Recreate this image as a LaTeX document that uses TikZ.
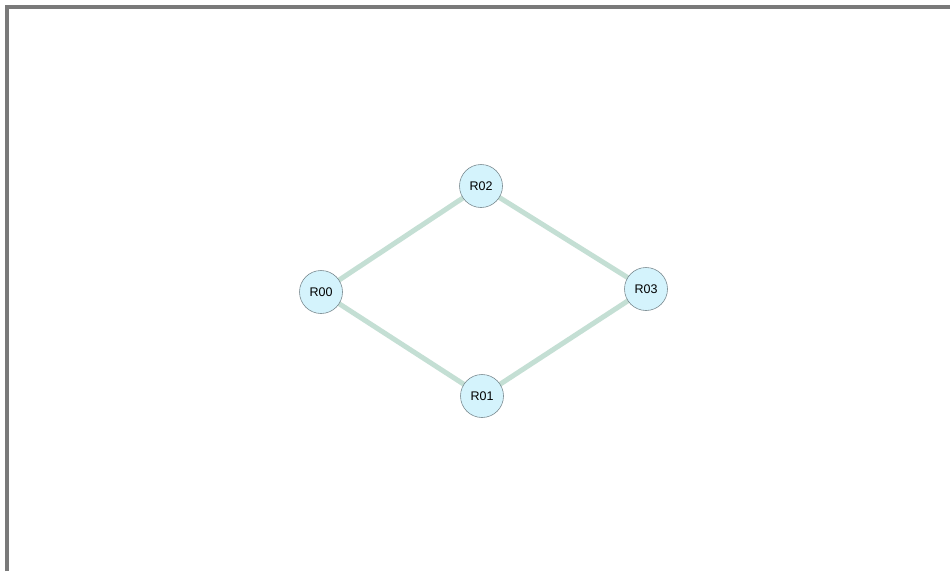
\documentclass[tikz,border=0pt]{standalone}
\usepackage{fontspec}
\setmainfont{Liberation Sans}
\usetikzlibrary{backgrounds}
\definecolor{nodefill}{HTML}{D4F3FC}
\definecolor{nodeedge}{HTML}{7A8A90}
\definecolor{edgecol}{HTML}{C4DFD4}
\definecolor{framecol}{HTML}{7A7A7A}
\begin{document}
\begin{tikzpicture}[x=1pt,y=-1pt,
  router/.style={circle,draw=nodeedge,fill=nodefill,line width=0.6pt,minimum size=43pt,inner sep=0pt,font=\fontsize{12.5}{14}\selectfont},
  link/.style={draw=edgecol,line width=5pt}]
\useasboundingbox (0,0) rectangle (950,571);
\draw[framecol,line width=4pt] (6.5,571) -- (6.5,6.5) -- (950,6.5);
\node[router] (R00) at (321,292) {R00};
\node[router] (R01) at (482,396) {R01};
\node[router] (R02) at (481,186) {R02};
\node[router] (R03) at (646,289) {R03};
\begin{scope}[on background layer]
\path[link] (R00.center) -- (R02.center);
\path[link] (R02.center) -- (R03.center);
\path[link] (R00.center) -- (R01.center);
\path[link] (R01.center) -- (R03.center);
\end{scope}
\end{tikzpicture}
\end{document}
